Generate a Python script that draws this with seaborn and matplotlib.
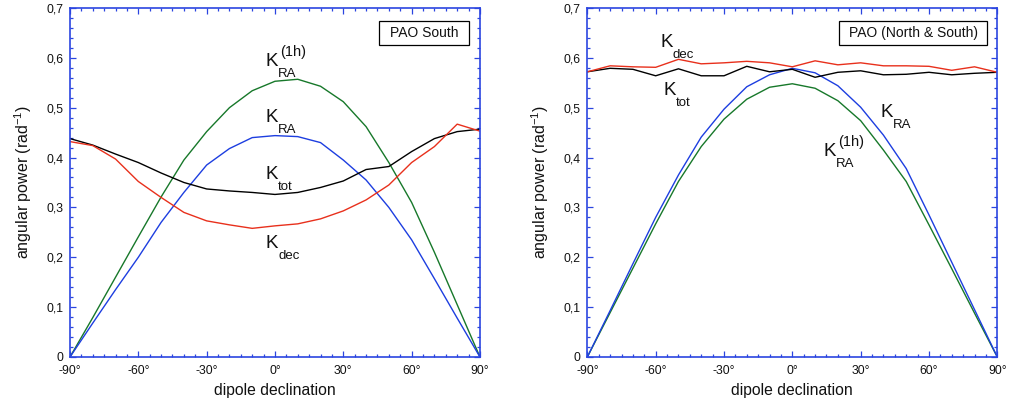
import pandas as pd
import seaborn as sns
import matplotlib.pyplot as plt
from matplotlib.ticker import FixedLocator, FixedFormatter, MultipleLocator
from matplotlib.patches import Rectangle

# dipole declination grid (deg)
dec = [-90, -80, -70, -60, -50, -40, -30, -20, -10, 0, 10, 20, 30, 40, 50, 60, 70, 80, 90]

# PAO South
south_ra1h = [0, 0.079, 0.16, 0.241, 0.321, 0.395, 0.452, 0.5, 0.534, 0.553, 0.557, 0.543, 0.512, 0.462, 0.39, 0.31, 0.21, 0.105, 0]
south_ra = [0, 0.068, 0.135, 0.2, 0.27, 0.33, 0.385, 0.418, 0.44, 0.444, 0.442, 0.43, 0.395, 0.355, 0.30, 0.235, 0.157, 0.078, 0]
south_tot = [0.438, 0.425, 0.407, 0.39, 0.369, 0.35, 0.337, 0.333, 0.33, 0.326, 0.33, 0.34, 0.353, 0.376, 0.382, 0.412, 0.438, 0.452, 0.457]
south_dec = [0.432, 0.424, 0.397, 0.352, 0.32, 0.29, 0.273, 0.265, 0.258, 0.263, 0.267, 0.277, 0.293, 0.315, 0.345, 0.39, 0.422, 0.467, 0.453]

# PAO North & South
all_dec = [0.572, 0.584, 0.582, 0.581, 0.597, 0.588, 0.59, 0.593, 0.59, 0.582, 0.594, 0.586, 0.59, 0.584, 0.584, 0.583, 0.575, 0.582, 0.571]
all_tot = [0.572, 0.579, 0.577, 0.564, 0.578, 0.564, 0.564, 0.583, 0.572, 0.577, 0.561, 0.571, 0.574, 0.566, 0.567, 0.571, 0.566, 0.569, 0.571]
all_ra = [0, 0.093, 0.187, 0.28, 0.365, 0.441, 0.497, 0.542, 0.566, 0.579, 0.57, 0.544, 0.501, 0.445, 0.378, 0.285, 0.19, 0.095, 0]
all_ra1h = [0, 0.089, 0.178, 0.267, 0.352, 0.422, 0.477, 0.517, 0.541, 0.548, 0.539, 0.514, 0.474, 0.415, 0.352, 0.265, 0.177, 0.088, 0]

xtick_vals = [-90, -60, -30, 0, 30, 60, 90]
xtick_labels = ['-90°', '-60°', '-30°', '0°', '30°', '60°', '90°']
ytick_vals = [0, 0.1, 0.2, 0.3, 0.4, 0.5, 0.6, 0.7]
ytick_labels = ['0', '0,1', '0,2', '0,3', '0,4', '0,5', '0,6', '0,7']

sns.set_style('ticks')
plt.rcParams['font.family'] = ['Liberation Sans', 'DejaVu Sans']
plt.rcParams['mathtext.fontset'] = 'custom'
plt.rcParams['mathtext.rm'] = 'Liberation Sans'

AXIS_BLUE = '#2b45e0'
RED = '#e8301c'
GREEN = '#17782a'
BLUE = '#1d3ee0'
TXT = '#111111'

fig = plt.figure(figsize=(10.19, 4.07), dpi=100)
ax1 = fig.add_axes([0.0687, 0.1229, 0.4023, 0.8575])
ax2 = fig.add_axes([0.5764, 0.1229, 0.4023, 0.8575])


def style_axes(ax):
    ax.set_xlim(-90, 90)
    ax.set_ylim(0, 0.7)
    ax.xaxis.set_major_locator(FixedLocator(xtick_vals))
    ax.xaxis.set_major_formatter(FixedFormatter(xtick_labels))
    ax.yaxis.set_major_locator(FixedLocator(ytick_vals))
    ax.yaxis.set_major_formatter(FixedFormatter(ytick_labels))
    ax.xaxis.set_minor_locator(MultipleLocator(5))
    ax.yaxis.set_minor_locator(MultipleLocator(0.02))
    ax.tick_params(which='both', direction='in', top=True, right=True,
                   color=AXIS_BLUE, width=0.9, labelsize=8.8, labelcolor=TXT)
    ax.tick_params(axis='x', which='major', length=4.3, pad=6)
    ax.tick_params(axis='y', which='major', length=4.3, pad=5)
    ax.tick_params(which='minor', length=2.2)
    for sp in ax.spines.values():
        sp.set_visible(True)
        sp.set_color(AXIS_BLUE)
        sp.set_linewidth(1.2)
    ax.set_xlabel('dipole declination', fontsize=11.3, color=TXT, labelpad=4)
    ax.set_ylabel(r'angular power (rad$^{\mathregular{-1}}$)', fontsize=11.5, color=TXT, labelpad=9)


def k_label(ax, x, y, sub, sup=None):
    ax.text(x, y, 'K', fontsize=13.5, color=TXT, ha='left', va='baseline')
    ax.annotate(sub, (x, y), xytext=(8.8, -7.9), textcoords='offset points',
                fontsize=9.5, color=TXT, ha='left', va='baseline')
    if sup:
        ax.annotate(sup, (x, y), xytext=(10.5, 7), textcoords='offset points',
                    fontsize=10.5, color=TXT, ha='left', va='baseline')


def tag_box(ax, x0, x1, label):
    ax.add_patch(Rectangle((x0, 0.894), x1 - x0, 0.069, transform=ax.transAxes,
                           fc='white', ec='black', lw=0.9, zorder=5))
    ax.text((x0 + x1) / 2, 0.9285, label, transform=ax.transAxes, fontsize=10,
            color=TXT, ha='center', va='center', zorder=6)


# left panel
for vals, col in [(south_ra1h, GREEN), (south_ra, BLUE), (south_tot, 'black'), (south_dec, RED)]:
    sns.lineplot(x=dec, y=vals, color=col, lw=1.0, ax=ax1)
style_axes(ax1)
tag_box(ax1, 0.754, 0.974, 'PAO South')
k_label(ax1, -4, 0.584, 'RA', '(1h)')
k_label(ax1, -4, 0.472, 'RA')
k_label(ax1, -4, 0.357, 'tot')
k_label(ax1, -4, 0.218, 'dec')

# right panel
for vals, col in [(all_ra1h, GREEN), (all_ra, BLUE), (all_tot, 'black'), (all_dec, RED)]:
    sns.lineplot(x=dec, y=vals, color=col, lw=1.0, ax=ax2)
style_axes(ax2)
tag_box(ax2, 0.615, 0.974, 'PAO (North & South)')
k_label(ax2, -58, 0.622, 'dec')
k_label(ax2, -56.6, 0.525, 'tot')
k_label(ax2, 38.8, 0.482, 'RA')
k_label(ax2, 13.9, 0.404, 'RA', '(1h)')

plt.savefig('out.png', dpi=100)
